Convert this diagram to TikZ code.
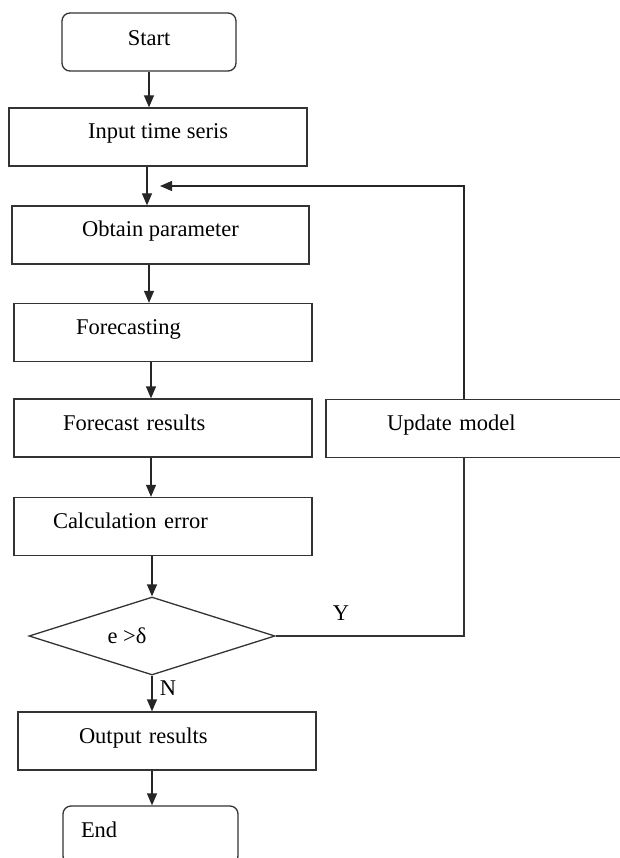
\documentclass[tikz,border=0pt]{standalone}
\usepackage{fontspec}
\setmainfont{Liberation Serif}
\usepackage{tikz}
\usetikzlibrary{arrows.meta,shapes.geometric}

\begin{document}
\begin{tikzpicture}[x=1pt,y=1pt,yscale=-1,xscale=1,
  font=\fontsize{22.5}{27}\selectfont,
  line width=1.3pt,
  stepbox/.style={draw=black!80,rectangle,minimum height=58pt,text height=16pt,text depth=12pt},
  midbox/.style={stepbox,minimum width=#1},
  leftbox/.style 2 args={stepbox,align=left,inner xsep=#1,text width=#2},
  endbox/.style={stepbox,rounded corners=8pt},
  decbox/.style={draw=black!80,diamond,aspect=3.15,inner sep=0pt,minimum width=246pt,minimum height=78pt},
  arr/.style={draw=black!85,-{Triangle[length=12pt,width=10pt]}},
  link/.style={draw=black!80}]

\useasboundingbox (0,0) rectangle (620,858);
\clip (0,0) rectangle (620,858);

\node [endbox,minimum width=174pt,text depth=8pt] (start) at (149,42) {Start};
\node [midbox=298pt] (input) at (158,137) {Input time seris};
\node [midbox=297pt] (obtain) at (160.5,235) {Obtain parameter};
\node [leftbox={62pt}{174pt}] (forecast) at (163,332.5) {Forecasting};
\node [leftbox={49pt}{200pt}] (fresults) at (163,428) {Forecast results};
\node [leftbox={39pt}{220pt}] (calcerr) at (163,526.5) {Calculation error};
\node [decbox,label={[name=declab,xshift=-25pt]center:e >δ}] (dec) at (152,636) {};
\node [leftbox={61pt}{176pt}] (output) at (167,741) {Output results};
\node [endbox,leftbox={18pt}{139pt}] (end) at (150.5,835) {End};
\node [leftbox={61pt}{192pt}] (update) at (483,428.5) {Update model};

\node [inner sep=0pt] (ylab) at (341,613) {Y};
\node [inner sep=0pt] (nlab) at (168,688) {N};

\coordinate (ycorner) at (464,636);
\coordinate (fbtop) at (464,186);
\coordinate (fbend) at (160,186);

\draw[arr] (start.south -| start) -- (input.north -| start);
\draw[arr] (input.south -| 147,0) -- (obtain.north -| 147,0);
\draw[arr] (obtain.south -| 149,0) -- (forecast.north -| 149,0);
\draw[arr] (forecast.south -| 151,0) -- (fresults.north -| 151,0);
\draw[arr] (fresults.south -| 151,0) -- (calcerr.north -| 151,0);
\draw[arr] (calcerr.south -| dec) -- (dec.north);
\draw[arr] (dec.south) -- (output.north -| dec);
\draw[arr] (output.south -| dec) -- (end.north -| dec);

\draw[link] (dec.east) -- (ycorner) -- (ycorner |- update.south);
\draw[arr] (fbtop |- update.north) -- (fbtop) -- (fbend);
\end{tikzpicture}
\end{document}
